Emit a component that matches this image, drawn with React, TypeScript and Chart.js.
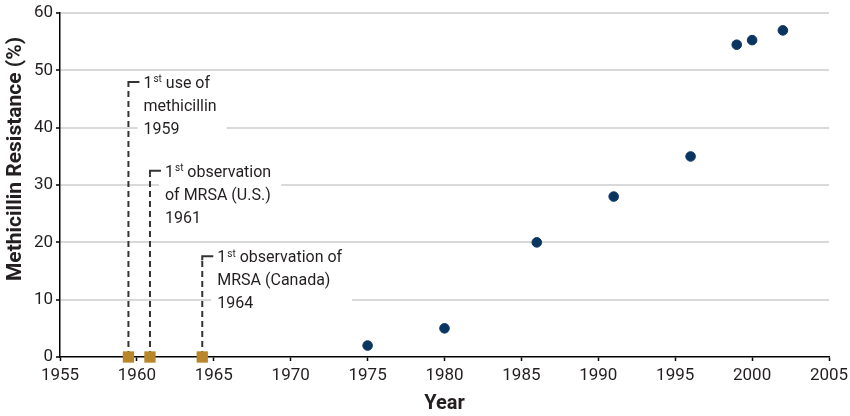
import React, { useEffect, useRef } from "react";
import { Chart, registerables } from "chart.js";

Chart.register(...registerables);

const years = [1975, 1980, 1986, 1991, 1996, 1999, 2000, 2002];
const resistance = [2, 5, 20, 28, 35, 54.5, 55.3, 57];

const eventYears = [1959.45, 1960.85, 1964.25];
const eventLineTops = [48, 32.5, 17.6];
const eventLabels = [
  ["1|st| use of", "methicillin", "1959"],
  ["1|st| observation", "of MRSA (U.S.)", "1961"],
  ["1|st| observation of", "MRSA (Canada)", "1964"],
];

const xTicks = [1955, 1960, 1965, 1970, 1975, 1980, 1985, 1990, 1995, 2000, 2005];
const yTicks = [0, 10, 20, 30, 40, 50, 60];

const FONT = "Roboto";
const TEXT = "#231f20";

const annotationPlugin = {
  id: "annotations",
  beforeDatasetsDraw(chart: any) {
    const { ctx, scales } = chart;
    const xs = scales.x;
    const ys = scales.y;
    ctx.save();
    const lineH = 23;
    eventYears.forEach((yr, i) => {
      const px = xs.getPixelForValue(yr);
      const pTop = ys.getPixelForValue(eventLineTops[i]);
      const pBottom = ys.getPixelForValue(0);
      const textX = px + 15;
      const lines = eventLabels[i];
      let maxW = 0;
      lines.forEach((ln) => {
        const parts = ln.split("|");
        let w = 0;
        if (parts.length === 3) {
          ctx.font = `16px ${FONT}`;
          w += ctx.measureText(parts[0]).width;
          ctx.font = `10px ${FONT}`;
          w += ctx.measureText(parts[1]).width + 1;
          ctx.font = `16px ${FONT}`;
          w += ctx.measureText(parts[2]).width;
        } else {
          ctx.font = `16px ${FONT}`;
          w = ctx.measureText(ln).width;
        }
        maxW = Math.max(maxW, w);
      });
      ctx.fillStyle = "#ffffff";
      ctx.fillRect(px + 9, pTop - 8, maxW + 16, lineH * 3 + 6);
      ctx.strokeStyle = "#333333";
      ctx.lineWidth = 2;
      ctx.setLineDash([6, 4]);
      ctx.beginPath();
      ctx.moveTo(px, pBottom);
      ctx.lineTo(px, pTop + 4);
      ctx.stroke();
      ctx.setLineDash([]);
      ctx.beginPath();
      ctx.moveTo(px, pTop + 4);
      ctx.lineTo(px, pTop);
      ctx.lineTo(px + 11, pTop);
      ctx.stroke();
      ctx.fillStyle = TEXT;
      ctx.textBaseline = "middle";
      ctx.textAlign = "left";
      lines.forEach((ln, j) => {
        const y = pTop + 2 + j * lineH;
        const parts = ln.split("|");
        if (parts.length === 3) {
          let x = textX;
          ctx.font = `16px ${FONT}`;
          ctx.fillText(parts[0], x, y);
          x += ctx.measureText(parts[0]).width + 1;
          ctx.font = `10px ${FONT}`;
          ctx.fillText(parts[1], x, y - 4);
          x += ctx.measureText(parts[1]).width;
          ctx.font = `16px ${FONT}`;
          ctx.fillText(parts[2], x, y);
        } else {
          ctx.font = `16px ${FONT}`;
          ctx.fillText(ln, textX, y);
        }
      });
    });
    ctx.restore();
  },
  afterDraw(chart: any) {
    const { ctx } = chart;
    ctx.save();
    ctx.fillStyle = TEXT;
    ctx.font = `bold 21px ${FONT}`;
    ctx.textAlign = "center";
    ctx.textBaseline = "middle";
    ctx.translate(16, 159);
    ctx.rotate(-Math.PI / 2);
    ctx.fillText("Methicillin Resistance (%)", 0, 0);
    ctx.restore();
  },
};

export default function App() {
  const ref = useRef<HTMLCanvasElement>(null);
  useEffect(() => {
    if (!ref.current) return;
    const chart = new Chart(ref.current, {
      type: "scatter",
      data: {
        datasets: [
          {
            label: "MRSA",
            data: years.map((x, i) => ({ x, y: resistance[i] })),
            backgroundColor: "#0b3561",
            borderColor: "#0b3561",
            pointRadius: 4.8,
            pointHoverRadius: 4.8,
          },
          {
            label: "Events",
            data: eventYears.map((x) => ({ x, y: 0 })),
            backgroundColor: "#b9872a",
            borderColor: "#b9872a",
            borderWidth: 0,
            pointStyle: "rect",
            pointRadius: 8,
            pointHoverRadius: 8,
            clip: false as any,
          },
        ],
      },
      options: {
        animation: false,
        responsive: false,
        maintainAspectRatio: false,
        layout: { padding: { top: 13, right: 21, left: 0, bottom: 0 } },
        plugins: {
          legend: { display: false },
          tooltip: { enabled: false },
        },
        scales: {
          x: {
            type: "linear",
            min: 1955,
            max: 2005,
            afterBuildTicks: (s: any) => {
              s.ticks = xTicks.map((v) => ({ value: v }));
            },
            afterFit: (s: any) => {
              s.height = 59;
              s.paddingRight = 0;
              s.paddingLeft = 0;
            },
            grid: {
              drawOnChartArea: false,
              drawTicks: true,
              tickLength: 4,
              tickColor: "#000",
              tickWidth: 1.5,
            },
            border: { color: "#000", width: 1.5 },
            ticks: {
              color: TEXT,
              font: { family: FONT, size: 17 },
              padding: 5,
              maxRotation: 0,
              autoSkip: false,
              callback: (v: any) => String(v),
            },
            title: {
              display: true,
              text: "Year",
              color: TEXT,
              font: { family: FONT, size: 20, weight: "bold" },
              padding: { top: 0, bottom: 0 },
            },
          },
          y: {
            min: 0,
            max: 60,
            afterBuildTicks: (s: any) => {
              s.ticks = yTicks.map((v) => ({ value: v }));
            },
            afterFit: (s: any) => {
              s.width = 60;
            },
            grid: {
              color: (c: any) => (c.tick && c.tick.value === 0 ? "rgba(0,0,0,0)" : "#d9d9d9"),
              lineWidth: 2,
              drawTicks: true,
              tickLength: 4,
              tickColor: "#000",
              tickWidth: 1.5,
            },
            border: { color: "#000", width: 1.5 },
            ticks: {
              color: TEXT,
              font: { family: FONT, size: 17 },
              padding: 3,
              autoSkip: false,
            },
          },
        },
      },
      plugins: [annotationPlugin],
    });
    return () => chart.destroy();
  }, []);
  return (
    <div style={{ position: "fixed", left: 0, top: 0, width: 850, height: 416, background: "#fff" }}>
      <canvas ref={ref} width={850} height={416} />
    </div>
  );
}
